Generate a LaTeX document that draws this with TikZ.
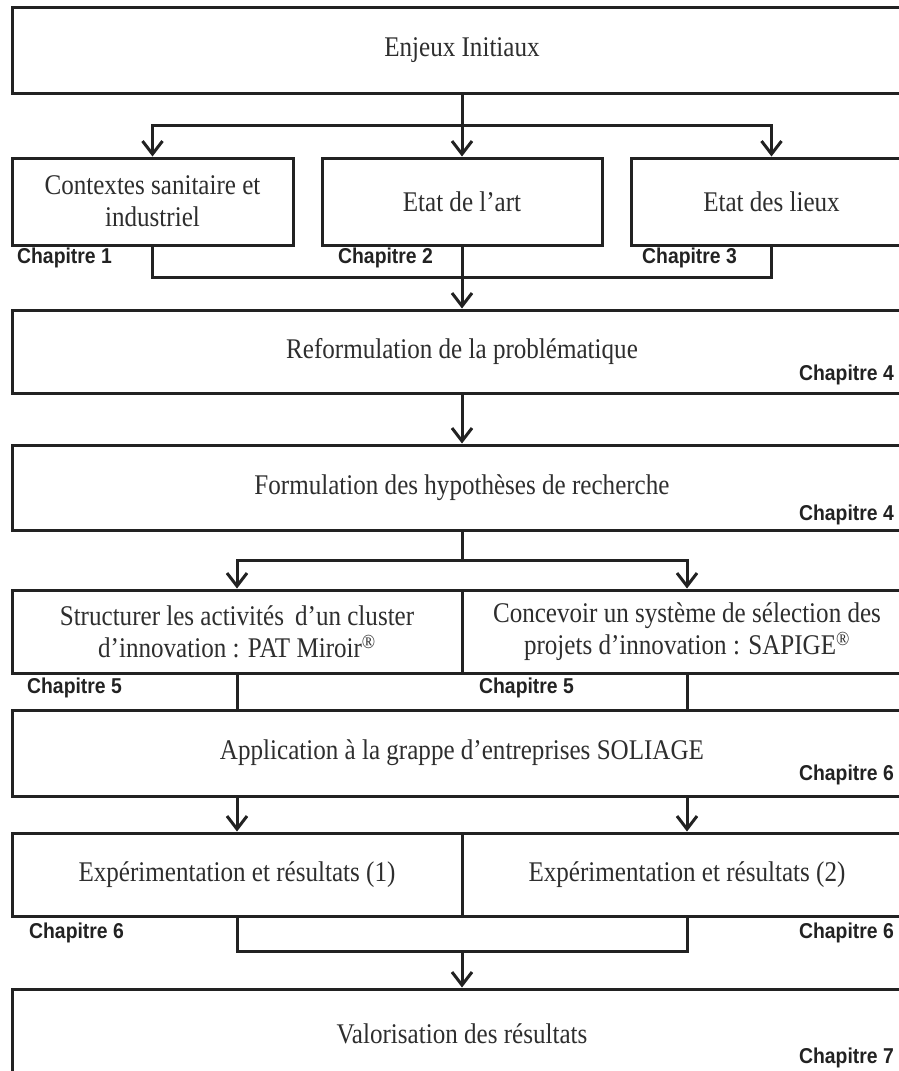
\documentclass[tikz,border=0pt]{standalone}
\usepackage{fontspec}
\setmainfont{Liberation Serif}[FakeStretch=0.88]
\newfontfamily\chapfont{Liberation Sans}[FakeStretch=0.9]
\usetikzlibrary{arrows.meta}
\definecolor{ink}{HTML}{222222}
\definecolor{txt}{HTML}{2E2E2E}
\begin{document}
\begin{tikzpicture}[x=1pt,y=-1pt,
  box/.style={draw=ink, line width=3pt, inner sep=0pt, align=center,
    font=\fontsize{28.5}{32}\selectfont, text=txt},
  ln/.style={draw=ink, line width=3pt},
  arr/.style={ln, -{Straight Barb[length=13pt,width=20pt,line width=3pt]}},
  chap/.style={font=\chapfont\bfseries\fontsize{21.5}{22}\selectfont, text=ink, inner sep=0pt}]
\useasboundingbox (0,0) rectangle (899,1071);
\fill[white] (0,0) rectangle (899,1071);
\clip (0,0) rectangle (899,1071);

% boxes
\node[box, minimum width=900pt, minimum height=86pt] (A) at (462,50) {Enjeux Initiaux};
\node[box, minimum width=281pt, minimum height=87pt] (B1) at (152.5,201.5) {Contextes sanitaire et\\industriel};
\node[box, minimum width=280pt, minimum height=87pt] (B2) at (462,201.5) {Etat de l’art};
\node[box, minimum width=281pt, minimum height=87pt] (B3) at (771.5,201.5) {Etat des lieux};
\node[box, minimum width=900pt, minimum height=83pt] (C) at (462,351.5) {Reformulation de la problématique};
\node[box, minimum width=900pt, minimum height=85pt] (D) at (462,487.5) {Formulation des hypothèses de recherche};
\node[box, minimum width=450pt, minimum height=83pt] (E1) at (237,631.5) {Structurer les activités\, d’un cluster\\d’innovation : PAT Miroir\textsuperscript{®}};
\node[box, minimum width=450pt, minimum height=83pt] (E2) at (687,631.5) {Concevoir un système de sélection des\\projets d’innovation : SAPIGE\textsuperscript{®}};
\node[box, minimum width=900pt, minimum height=86pt] (F) at (462,753) {Application à la grappe d’entreprises SOLIAGE};
\node[box, minimum width=450pt, minimum height=83pt] (G1) at (237,874.5) {Expérimentation et résultats (1)};
\node[box, minimum width=450pt, minimum height=83pt] (G2) at (687,874.5) {Expérimentation et résultats (2)};
\node[box, minimum width=900pt, minimum height=90pt] (H) at (462,1034) {Valorisation des résultats};

% connectors
\coordinate (j1) at (462,125);
\draw[ln] (A.south) -- (j1);
\draw[ln, line cap=rect] (B1.north |- j1) -- (B3.north |- j1);
\draw[arr] (B1.north |- j1) -- (B1.north);
\draw[arr] (j1) -- (B2.north);
\draw[arr] (B3.north |- j1) -- (B3.north);

\coordinate (j2) at (462,277);
\draw[ln, line join=miter] (B1.south) -- (B1.south |- j2) -- (B3.south |- j2) -- (B3.south);
\draw[ln] (B2.south) -- (j2);
\draw[arr] (j2) -- (C.north);

\draw[arr] (C.south) -- (D.north);

\coordinate (j3) at (462,560);
\draw[ln] (D.south) -- (j3);
\draw[ln, line cap=rect] (E1.north |- j3) -- (E2.north |- j3);
\draw[arr] (E1.north |- j3) -- (E1.north);
\draw[arr] (E2.north |- j3) -- (E2.north);

\draw[ln] (E1.south) -- (E1.south |- F.north);
\draw[ln] (E2.south) -- (E2.south |- F.north);

\draw[arr] (F.south -| G1.north) -- (G1.north);
\draw[arr] (F.south -| G2.north) -- (G2.north);

\coordinate (j4) at (462,951);
\draw[ln, line join=miter] (G1.south) -- (G1.south |- j4) -- (G2.south |- j4) -- (G2.south);
\draw[arr] (j4) -- (H.north);

% chapter labels
\node[chap, anchor=west] (c1) at (17,258) {Chapitre 1};
\node[chap, anchor=west] (c2) at (338,258) {Chapitre 2};
\node[chap, anchor=west] (c3) at (642,258) {Chapitre 3};
\node[chap, anchor=east] (c4a) at (894,375) {Chapitre 4};
\node[chap, anchor=east] (c4b) at (894,515) {Chapitre 4};
\node[chap, anchor=west] (c5a) at (27,688) {Chapitre 5};
\node[chap, anchor=west] (c5b) at (479,688) {Chapitre 5};
\node[chap, anchor=east] (c6a) at (894,775) {Chapitre 6};
\node[chap, anchor=west] (c6b) at (29,933) {Chapitre 6};
\node[chap, anchor=east] (c6c) at (894,933) {Chapitre 6};
\node[chap, anchor=east] (c7) at (894,1058) {Chapitre 7};
\end{tikzpicture}
\end{document}
